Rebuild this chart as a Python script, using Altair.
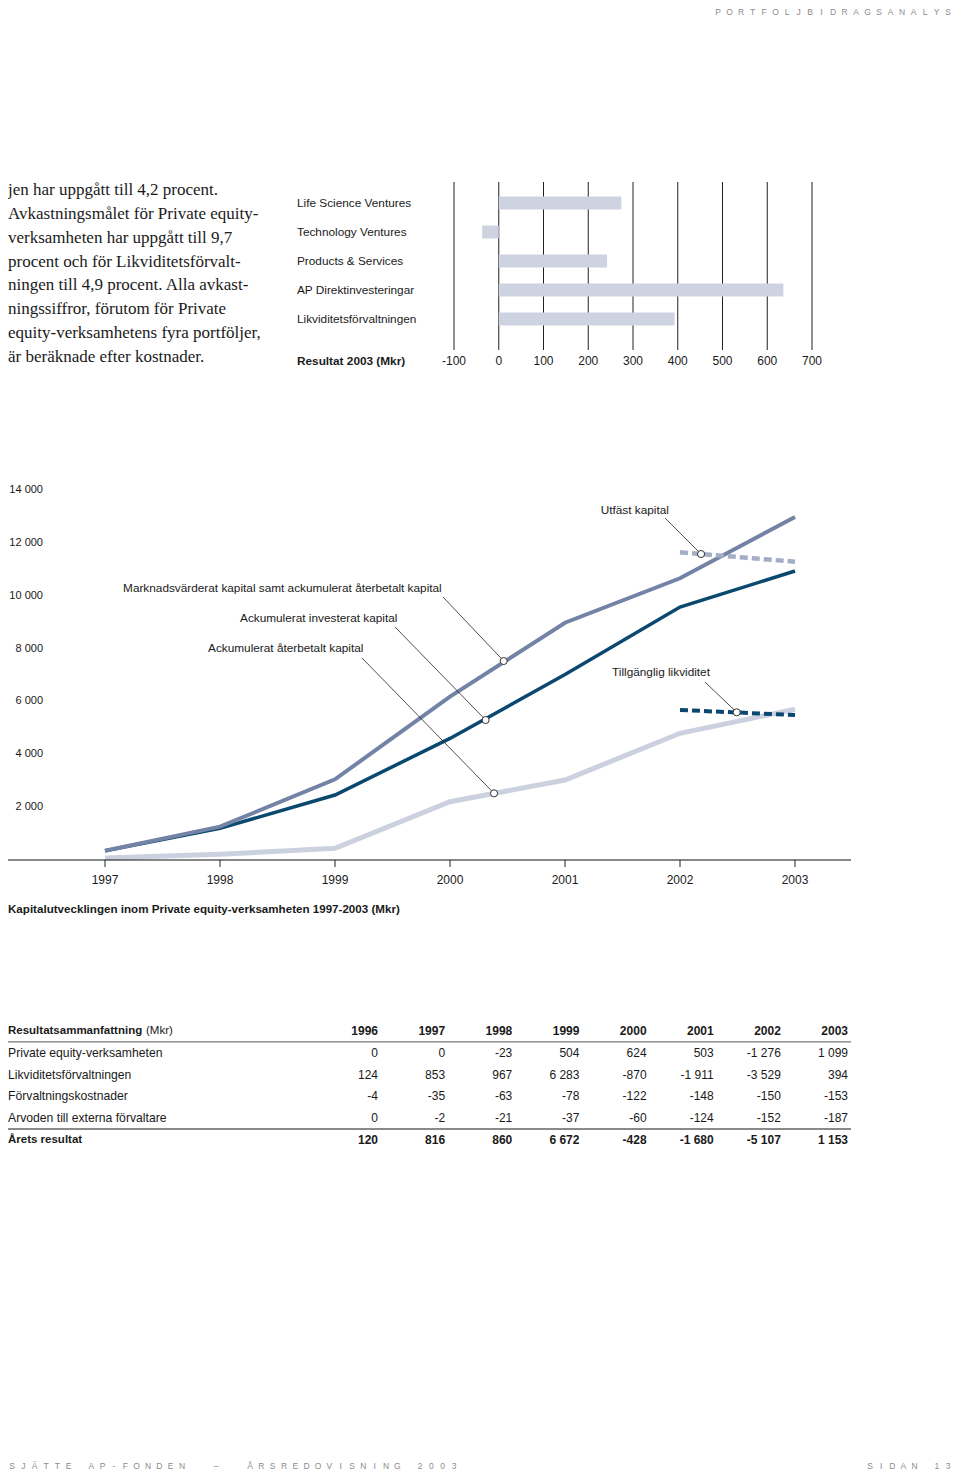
import altair as alt
import pandas as pd

# ---------------- data ----------------
page_header = "PORTFÖLJBIDRAGSANALYS"
page_footer_left = "SJÄTTE AP-FONDEN  –  ÅRSREDOVISNING 2003"
page_footer_right = "SIDAN 13"

paragraph = [
    "jen har uppgått till 4,2 procent.",
    "Avkastningsmålet för Private equity-",
    "verksamheten har uppgått till 9,7",
    "procent och för Likviditetsförvalt-",
    "ningen till 4,9 procent. Alla avkast-",
    "ningssiffror, förutom för Private",
    "equity-verksamhetens fyra portföljer,",
    "är beräknade efter kostnader.",
]

bar_categories = [
    "Life Science Ventures",
    "Technology Ventures",
    "Products & Services",
    "AP Direktinvesteringar",
    "Likviditetsförvaltningen",
]
bar_values = [274, -37, 242, 636, 393]
bar_ticks = [-100, 0, 100, 200, 300, 400, 500, 600, 700]
bar_axis_title = "Resultat 2003 (Mkr)"

years = [1997, 1998, 1999, 2000, 2001, 2002, 2003]
market_capital = [351, 1260, 3053, 6180, 8979, 10659, 12978]
invested_capital = [351, 1199, 2459, 4600, 7015, 9572, 10935]
repaid_capital = [76, 216, 443, 2206, 3027, 4794, 5702]
forecast_years = [2002, 2003]
committed_capital = [11643, 11287]
available_liquidity = [5676, 5486]
y_ticks = [2000, 4000, 6000, 8000, 10000, 12000, 14000]
y_tick_labels = ["2 000", "4 000", "6 000", "8 000", "10 000", "12 000", "14 000"]
line_caption = "Kapitalutvecklingen inom Private equity-verksamheten 1997-2003 (Mkr)"

# annotation label text, label anchor (year, value), leader start (year, value), marker (year, value)
ann_labels = [
    "Utfäst kapital",
    "Marknadsvärderat kapital samt ackumulerat återbetalt kapital",
    "Ackumulerat investerat kapital",
    "Ackumulerat återbetalt kapital",
    "Tillgänglig likviditet",
]
ann_label_year = [2001.31, 1997.157, 1998.174, 1997.896, 2001.409]
ann_label_value = [13243, 10292, 9157, 8022, 7113]
ann_lead_year = [2001.870, 1999.939, 1999.522, 1999.235, 2002.217]
ann_lead_value = [12941, 9951, 8816, 7643, 6735]
ann_mark_year = [2002.183, 2000.467, 2000.310, 2000.383, 2002.493]
ann_mark_value = [11578, 7529, 5297, 2523, 5589]

table_title = "Resultatsammanfattning"
table_unit = "(Mkr)"
table_years = [1996, 1997, 1998, 1999, 2000, 2001, 2002, 2003]
table_rows = [
    "Private equity-verksamheten",
    "Likviditetsförvaltningen",
    "Förvaltningskostnader",
    "Arvoden till externa förvaltare",
    "Årets resultat",
]
table_values = [
    [0, 0, -23, 504, 624, 503, -1276, 1099],
    [124, 853, 967, 6283, -870, -1911, -3529, 394],
    [-4, -35, -63, -78, -122, -148, -150, -153],
    [0, -2, -21, -37, -60, -124, -152, -187],
    [120, 816, 860, 6672, -428, -1680, -5107, 1153],
]

# ---------------- style ----------------
W, H = 944, 1464
FONT = "Liberation Sans"
SERIF = "Liberation Serif"
INK = "#1a1a1a"
GREY_TXT = "#8c8c8c"
C_MARKET = "#7383a5"
C_INVEST = "#0b4870"
C_REPAID = "#cbd1de"
C_COMMIT = "#a3adc6"
C_BAR = "#cdd3e0"
FS = 11.8   # chart label size
FN = 12     # numbers


def lin(domain, rng):
    return alt.Scale(domain=domain, range=rng, nice=False, zero=False)


def fmt(v):
    return f"{v:,}".replace(",", " ")


layers = []

# ---- page header / footer (letter spaced) ----
hdr = pd.DataFrame({"i": list(range(len(page_header))), "ch": list(page_header)})
layers.append(
    alt.Chart(hdr).mark_text(font=FONT, fontSize=8.5, color=GREY_TXT, baseline="top")
    .encode(x=alt.X("i:Q", scale=lin([0, len(page_header) - 1], [710, 940]), axis=None),
            y=alt.value(0), text="ch:N")
)
ftl = pd.DataFrame({"i": list(range(len(page_footer_left))), "ch": list(page_footer_left)})
ftl = ftl[ftl.ch != " "]
layers.append(
    alt.Chart(ftl).mark_text(font=FONT, fontSize=8.5, color=GREY_TXT, baseline="bottom")
    .encode(x=alt.X("i:Q", scale=lin([0, len(page_footer_left) - 1], [4, 446]), axis=None),
            y=alt.value(1463), text="ch:N")
)
ftr = pd.DataFrame({"i": list(range(len(page_footer_right))), "ch": list(page_footer_right)})
ftr = ftr[ftr.ch != " "]
layers.append(
    alt.Chart(ftr).mark_text(font=FONT, fontSize=8.5, color=GREY_TXT, baseline="bottom")
    .encode(x=alt.X("i:Q", scale=lin([0, len(page_footer_right) - 1], [862, 940]), axis=None),
            y=alt.value(1463), text="ch:N")
)

# ---- paragraph ----
par = pd.DataFrame({"i": list(range(len(paragraph))), "t": paragraph})
layers.append(
    alt.Chart(par).mark_text(font=SERIF, fontSize=17, color=INK, align="left", baseline="middle")
    .encode(x=alt.value(0), y=alt.Y("i:Q", scale=lin([0, 7], [182, 349]), axis=None), text="t:N")
)

# ---- bar chart ----
BX = lin([-100, 700], [446, 804])
bars = pd.DataFrame({"cat": bar_categories, "v": bar_values, "i": list(range(len(bar_categories)))})
ticks_b = pd.DataFrame({"t": bar_ticks, "lab": [str(t) for t in bar_ticks]})
layers.append(
    alt.Chart(ticks_b).mark_rule(color="#222222", strokeWidth=1)
    .encode(x=alt.X("t:Q", scale=BX, axis=None), y=alt.value(174), y2=alt.value(342))
)
layers.append(
    alt.Chart(bars).mark_bar(color=C_BAR)
    .encode(x=alt.X("v:Q", scale=BX, axis=None), x2=alt.datum(0),
            y=alt.Y("cat:N", scale=alt.Scale(type="band", domain=bar_categories, range=[180.5, 325.5],
                                             paddingInner=0.55, paddingOuter=0.275), axis=None))
)
layers.append(
    alt.Chart(bars).mark_text(font=FONT, fontSize=FS, color=INK, align="left", baseline="middle")
    .encode(x=alt.value(289), y=alt.Y("i:Q", scale=lin([0, 4], [195, 311]), axis=None), text="cat:N")
)
layers.append(
    alt.Chart(ticks_b).mark_text(font=FONT, fontSize=FN, color=INK, align="center", baseline="middle")
    .encode(x=alt.X("t:Q", scale=BX, axis=None), y=alt.value(353), text="lab:N")
)
layers.append(
    alt.Chart(pd.DataFrame({"t": [bar_axis_title]})).mark_text(
        font=FONT, fontSize=FS, fontWeight="bold", color=INK, align="left", baseline="middle")
    .encode(x=alt.value(289), y=alt.value(353), text="t:N")
)

# ---- line chart ----
LX = lin([1997, 2003], [97, 787])
LY = lin([0, 14000], [852, 482])


def line_layer(xs, ys, color, width, dash=None):
    df = pd.DataFrame({"year": xs, "v": ys})
    kw = dict(color=color, strokeWidth=width, strokeCap="butt", strokeJoin="miter")
    if dash:
        kw["strokeDash"] = dash
    return alt.Chart(df).mark_line(**kw).encode(
        x=alt.X("year:Q", scale=LX, axis=None), y=alt.Y("v:Q", scale=LY, axis=None))


layers.append(line_layer(years, repaid_capital, C_REPAID, 5))
layers.append(line_layer(years, invested_capital, C_INVEST, 3.5))
layers.append(line_layer(years, market_capital, C_MARKET, 4))
layers.append(line_layer(forecast_years, committed_capital, C_COMMIT, 4.5, [8, 4]))
layers.append(line_layer(forecast_years, available_liquidity, C_INVEST, 4, [8, 4]))

ann = pd.DataFrame({
    "lab": ann_labels, "lx": ann_label_year, "ly": ann_label_value,
    "sx": ann_lead_year, "sy": ann_lead_value, "mx": ann_mark_year, "my": ann_mark_value,
})
layers.append(
    alt.Chart(ann).mark_rule(color="#222222", strokeWidth=0.8)
    .encode(x=alt.X("sx:Q", scale=LX, axis=None), x2="mx:Q",
            y=alt.Y("sy:Q", scale=LY, axis=None), y2="my:Q")
)
layers.append(
    alt.Chart(ann).mark_point(shape="circle", filled=True, fill="white", stroke="#333333",
                              strokeWidth=1, size=50, opacity=1)
    .encode(x=alt.X("mx:Q", scale=LX, axis=None), y=alt.Y("my:Q", scale=LY, axis=None))
)
layers.append(
    alt.Chart(ann).mark_text(font=FONT, fontSize=FS, color=INK, align="left", baseline="middle")
    .encode(x=alt.X("lx:Q", scale=LX, axis=None), y=alt.Y("ly:Q", scale=LY, axis=None), text="lab:N")
)

# axes of the line chart
layers.append(
    alt.Chart(pd.DataFrame({"v": [0]})).mark_rule(color="#111111", strokeWidth=1.2)
    .encode(x=alt.value(0), x2=alt.value(843), y=alt.Y("v:Q", scale=LY, axis=None))
)
yr = pd.DataFrame({"year": years, "lab": [str(y) for y in years]})
layers.append(
    alt.Chart(yr).mark_rule(color="#222222", strokeWidth=1)
    .encode(x=alt.X("year:Q", scale=LX, axis=None), y=alt.value(852), y2=alt.value(859))
)
layers.append(
    alt.Chart(yr).mark_text(font=FONT, fontSize=FN, color=INK, align="center", baseline="middle")
    .encode(x=alt.X("year:Q", scale=LX, axis=None), y=alt.value(872), text="lab:N")
)
yt = pd.DataFrame({"v": y_ticks, "lab": y_tick_labels})
layers.append(
    alt.Chart(yt).mark_text(font=FONT, fontSize=11, color=INK, align="right", baseline="middle")
    .encode(x=alt.value(35), y=alt.Y("v:Q", scale=LY, axis=None), text="lab:N")
)
layers.append(
    alt.Chart(pd.DataFrame({"t": [line_caption]})).mark_text(
        font=FONT, fontSize=11.6, fontWeight="bold", color=INK, align="left", baseline="middle")
    .encode(x=alt.value(0), y=alt.value(902), text="t:N")
)

# ---- table ----
TX = lin([1996, 2003], [370, 840])
TY = lin([0, 5], [1023, 1132])
cells = []
for r, (name, vals) in enumerate(zip(table_rows, table_values)):
    for yv, v in zip(table_years, vals):
        cells.append({"row": r + 1, "year": yv, "txt": fmt(v), "bold": r == len(table_rows) - 1})
cells = pd.DataFrame(cells)
rows_df = pd.DataFrame({"row": list(range(1, len(table_rows) + 1)), "name": table_rows,
                        "bold": [False] * (len(table_rows) - 1) + [True]})
head_df = pd.DataFrame({"year": table_years, "txt": [str(y) for y in table_years], "row": 0})

layers.append(
    alt.Chart(pd.DataFrame({"row": [0.5]})).mark_rule(color="#555555", strokeWidth=1)
    .encode(x=alt.value(0), x2=alt.value(843), y=alt.Y("row:Q", scale=TY, axis=None))
)
layers.append(
    alt.Chart(pd.DataFrame({"row": [4.5]})).mark_rule(color="#8a8a8a", strokeWidth=2)
    .encode(x=alt.value(0), x2=alt.value(843), y=alt.Y("row:Q", scale=TY, axis=None))
)
layers.append(
    alt.Chart(pd.DataFrame({"t": [table_title], "row": [0]})).mark_text(
        font=FONT, fontSize=11.5, fontWeight="bold", color=INK, align="left", baseline="middle")
    .encode(x=alt.value(0), y=alt.Y("row:Q", scale=TY, axis=None), text="t:N")
)
layers.append(
    alt.Chart(pd.DataFrame({"t": [table_unit], "row": [0]})).mark_text(
        font=FONT, fontSize=11.5, color=INK, align="left", baseline="middle")
    .encode(x=alt.value(138), y=alt.Y("row:Q", scale=TY, axis=None), text="t:N")
)
layers.append(
    alt.Chart(head_df).mark_text(font=FONT, fontSize=FN, fontWeight="bold", color=INK,
                                 align="right", baseline="middle")
    .encode(x=alt.X("year:Q", scale=TX, axis=None), y=alt.Y("row:Q", scale=TY, axis=None), text="txt:N")
)
layers.append(
    alt.Chart(rows_df[~rows_df.bold]).mark_text(font=FONT, fontSize=12.2, color=INK, align="left",
                                                baseline="middle")
    .encode(x=alt.value(0), y=alt.Y("row:Q", scale=TY, axis=None), text="name:N")
)
layers.append(
    alt.Chart(rows_df[rows_df.bold]).mark_text(font=FONT, fontSize=11.5, fontWeight="bold", color=INK,
                                               align="left", baseline="middle")
    .encode(x=alt.value(0), y=alt.Y("row:Q", scale=TY, axis=None), text="name:N")
)
layers.append(
    alt.Chart(cells[~cells.bold]).mark_text(font=FONT, fontSize=FN, color=INK, align="right",
                                            baseline="middle")
    .encode(x=alt.X("year:Q", scale=TX, axis=None), y=alt.Y("row:Q", scale=TY, axis=None), text="txt:N")
)
layers.append(
    alt.Chart(cells[cells.bold]).mark_text(font=FONT, fontSize=FN, fontWeight="bold", color=INK,
                                           align="right", baseline="middle")
    .encode(x=alt.X("year:Q", scale=TX, axis=None), y=alt.Y("row:Q", scale=TY, axis=None), text="txt:N")
)

chart = (
    alt.layer(*layers)
    .resolve_scale(x="independent", y="independent")
    .properties(width=W, height=H, padding=0, autosize=alt.AutoSizeParams(type="none"))
    .configure_view(stroke=None)
)
chart.save("out.html", embed_options={"renderer": "svg", "actions": False})
